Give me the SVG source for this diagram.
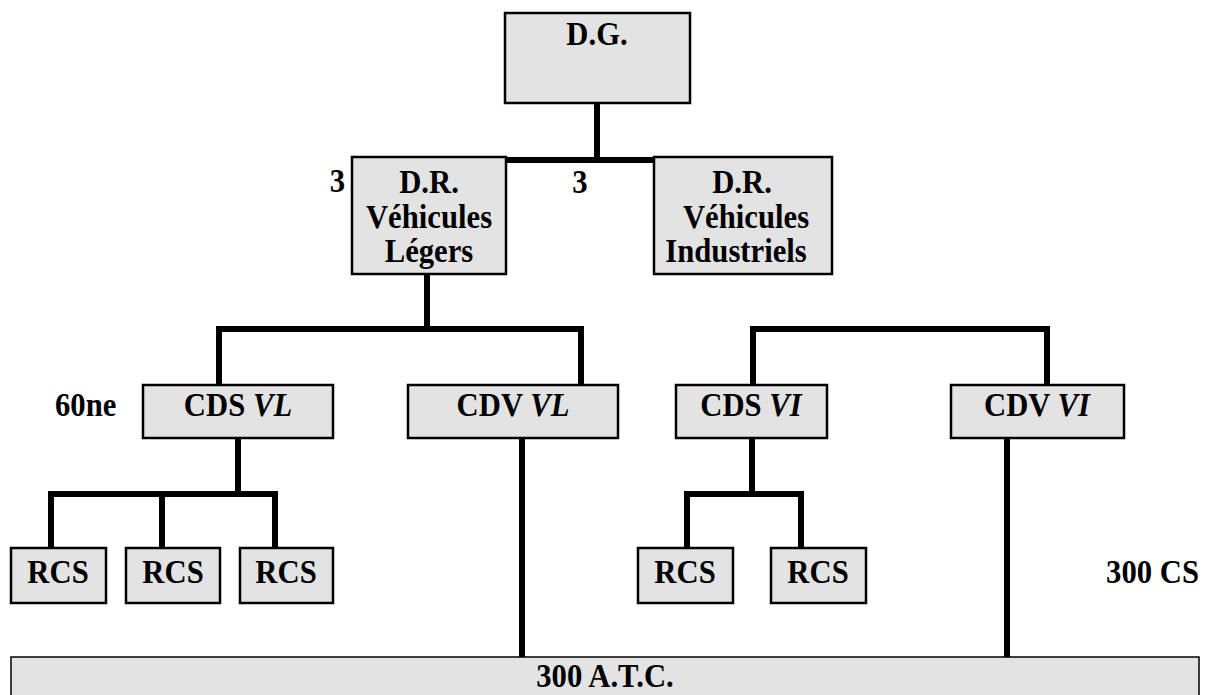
<svg xmlns="http://www.w3.org/2000/svg" width="1210" height="695" viewBox="0 0 1210 695">
<style>
.box{fill:#e3e3e3;stroke:#000;stroke-width:2.5}
.atc{fill:#e3e3e3;stroke:#000;stroke-width:1.5}
text{font-family:"Liberation Serif","Times New Roman",serif;font-weight:bold;font-size:33px;fill:#000}
.t{text-anchor:middle}
.e{text-anchor:end}
.c{fill:none;stroke:#000;stroke-width:6;stroke-linejoin:miter;stroke-linecap:butt}
.i{font-style:italic}
</style>
<rect width="1210" height="695" fill="#fff"/>
<g id="connectors">
<path class="c" d="M597,103 V160 M506,160 H654"/>
<path class="c" d="M427,274 V329 M219,385 V326 M216,329 H584 M581,326 V385"/>
<path class="c" d="M753,385 V326 M750,329 H1050 M1047,326 V385"/>
<path class="c" d="M238,438 V494 M51,548 V491 M48,494 H278 M162,494 V548 M275,491 V548"/>
<path class="c" d="M752,438 V494 M687,548 V491 M684,494 H804 M801,491 V548"/>
<path class="c" d="M522,438 V657"/>
<path class="c" d="M1007,438 V657"/>
</g>
<g id="dg"><rect class="box" x="505" y="13" width="185" height="90"/><text class="t" transform="translate(597,45) scale(0.93,1)">D.G.</text></g>
<g id="drvl"><rect class="box" x="352" y="157" width="154" height="117"/>
<text class="t" transform="translate(429,193) scale(0.93,1)">D.R.</text><text class="t" transform="translate(429,228) scale(0.93,1)">Véhicules</text><text class="t" transform="translate(429,262) scale(0.93,1)">Légers</text></g>
<g id="drvi"><rect class="box" x="654" y="157" width="178" height="117"/>
<text class="t" transform="translate(742,193) scale(0.93,1)">D.R.</text><text class="t" transform="translate(746,228) scale(0.93,1)">Véhicules</text><text class="t" transform="translate(736,262) scale(0.93,1)">Industriels</text></g>
<g id="lbl3a"><text class="e" transform="translate(345,192) scale(0.93,1)">3</text></g>
<g id="lbl3b"><text class="t" transform="translate(580,193) scale(0.93,1)">3</text></g>
<g id="lbl60"><text transform="translate(55,416) scale(0.93,1)">60ne</text></g>
<g id="cdsvl"><rect class="box" x="143" y="385" width="190" height="53"/><text class="t" transform="translate(238,416) scale(0.93,1)">CDS <tspan class="i">VL</tspan></text></g>
<g id="cdvvl"><rect class="box" x="408" y="385" width="210" height="53"/><text class="t" transform="translate(513,416) scale(0.93,1)">CDV <tspan class="i">VL</tspan></text></g>
<g id="cdsvi"><rect class="box" x="676" y="385" width="151" height="53"/><text class="t" transform="translate(751,416) scale(0.93,1)">CDS <tspan class="i">VI</tspan></text></g>
<g id="cdvvi"><rect class="box" x="951" y="385" width="173" height="53"/><text class="t" transform="translate(1037,416) scale(0.93,1)">CDV <tspan class="i">VI</tspan></text></g>
<g id="rcs1"><rect class="box" x="11" y="548" width="95" height="55"/><text class="t" transform="translate(58,583) scale(0.93,1)">RCS</text></g>
<g id="rcs2"><rect class="box" x="126" y="548" width="94" height="55"/><text class="t" transform="translate(173,583) scale(0.93,1)">RCS</text></g>
<g id="rcs3"><rect class="box" x="240" y="548" width="93" height="55"/><text class="t" transform="translate(286,583) scale(0.93,1)">RCS</text></g>
<g id="rcs4"><rect class="box" x="638" y="548" width="95" height="55"/><text class="t" transform="translate(685,583) scale(0.93,1)">RCS</text></g>
<g id="rcs5"><rect class="box" x="771" y="548" width="95" height="55"/><text class="t" transform="translate(818,583) scale(0.93,1)">RCS</text></g>
<g id="lbl300cs"><text class="e" transform="translate(1199,583) scale(0.93,1)">300 CS</text></g>
<g id="atc"><rect class="atc" x="11" y="657" width="1188" height="60"/><text class="t" transform="translate(605,687) scale(0.93,1)">300 A.T.C.</text></g>
</svg>
